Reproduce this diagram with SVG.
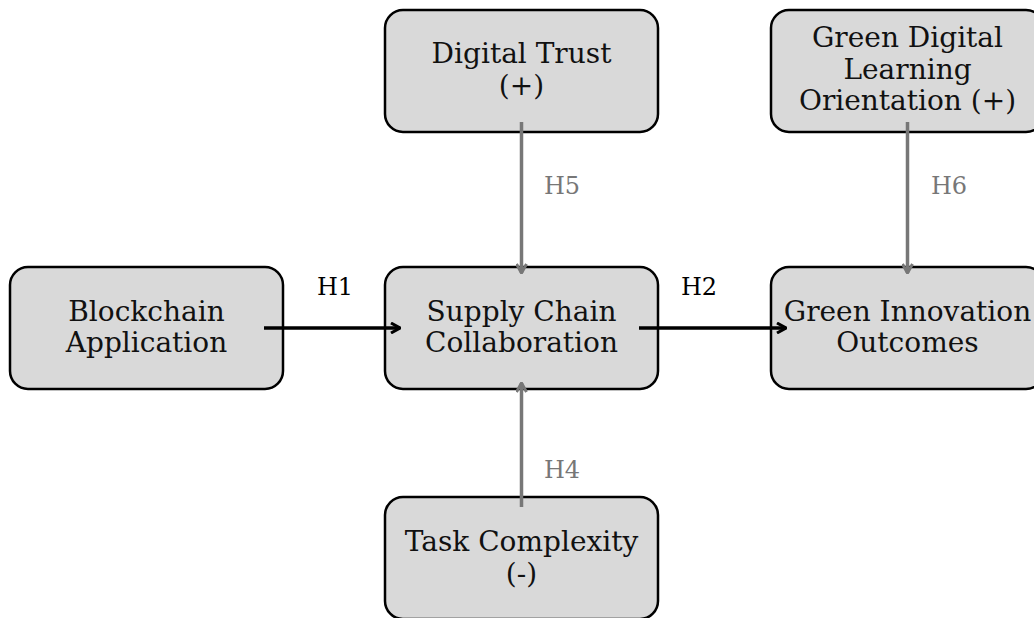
<svg xmlns="http://www.w3.org/2000/svg" width="1034" height="618" viewBox="0 0 1034 618">
  <style>
    .box { fill: #d9d9d9; stroke: #000; stroke-width: 2.5; }
    .lbl { font-family: "DejaVu Serif", "Liberation Serif", serif; font-size: 28px; fill: #111; text-anchor: middle; }
    .h { font-family: "DejaVu Serif", "Liberation Serif", serif; font-size: 24px; text-anchor: middle; }
    .hk { fill: #000; }
    .hg { fill: #777; }
    .main { stroke: #000; stroke-width: 3.5; fill: none; marker-end: url(#headK); }
    .mod { stroke: #777; stroke-width: 3.5; fill: none; marker-end: url(#headG); }
  </style>
  <defs>
    <marker id="headK" viewBox="0 0 12 12" refX="11" refY="6" markerWidth="12" markerHeight="12" markerUnits="userSpaceOnUse" orient="auto">
      <path d="M2,1 L11,6 L2,11" fill="none" stroke="#000" stroke-width="3"/>
    </marker>
    <marker id="headG" viewBox="0 0 12 12" refX="11" refY="6" markerWidth="12" markerHeight="12" markerUnits="userSpaceOnUse" orient="auto">
      <path d="M2,1 L11,6 L2,11" fill="none" stroke="#777" stroke-width="3"/>
    </marker>
  </defs>
  <rect width="1034" height="618" fill="#fff"/>

  <g id="blockchain">
    <rect class="box" x="10" y="267" width="273" height="122" rx="18"/>
    <text class="lbl" x="146.5" y="321">Blockchain</text>
    <text class="lbl" x="146.5" y="352">Application</text>
  </g>
  <g id="supply-chain">
    <rect class="box" x="385" y="267" width="273" height="122" rx="18"/>
    <text class="lbl" x="521.5" y="321">Supply Chain</text>
    <text class="lbl" x="521.5" y="352">Collaboration</text>
  </g>
  <g id="green-innovation">
    <rect class="box" x="771" y="267" width="273" height="122" rx="18"/>
    <text class="lbl" x="907.5" y="321">Green Innovation</text>
    <text class="lbl" x="907.5" y="352">Outcomes</text>
  </g>
  <g id="digital-trust">
    <rect class="box" x="385" y="10" width="273" height="122" rx="18"/>
    <text class="lbl" x="521.5" y="63">Digital Trust</text>
    <text class="lbl" x="521.5" y="95">(+)</text>
  </g>
  <g id="green-digital-learning">
    <rect class="box" x="771" y="10" width="273" height="122" rx="18"/>
    <text class="lbl" x="907.5" y="47">Green Digital</text>
    <text class="lbl" x="907.5" y="79">Learning</text>
    <text class="lbl" x="907.5" y="110">Orientation (+)</text>
  </g>
  <g id="task-complexity">
    <rect class="box" x="385" y="497" width="273" height="122" rx="18"/>
    <text class="lbl" x="521.5" y="551">Task Complexity</text>
    <text class="lbl" x="521.5" y="583">(-)</text>
  </g>

  <g id="connectors">
    <line class="main" x1="264" y1="328" x2="400" y2="328"/>
    <line class="main" x1="639" y1="328" x2="786" y2="328"/>
    <line class="mod" x1="521.5" y1="122" x2="521.5" y2="273"/>
    <line class="mod" x1="907.5" y1="122" x2="907.5" y2="273"/>
    <line class="mod" x1="521.5" y1="507" x2="521.5" y2="383"/>
    <text class="h hk" x="335" y="295">H1</text>
    <text class="h hk" x="699" y="295">H2</text>
    <text class="h hg" x="562" y="194">H5</text>
    <text class="h hg" x="949" y="194">H6</text>
    <text class="h hg" x="562" y="478">H4</text>
  </g>
</svg>
